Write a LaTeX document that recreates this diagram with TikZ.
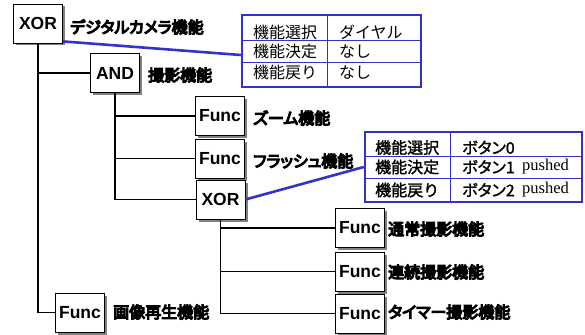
\documentclass[tikz,border=0pt]{standalone}
\usepackage{fontspec}
\setmainfont{Liberation Sans}
\newfontfamily\jp{Noto Sans CJK JP}
\newfontfamily\jpm[FakeBold=1.5]{Noto Sans CJK JP}
\newfontfamily\jpmp[FakeBold=1.5,RawFeature=+palt]{Noto Sans CJK JP}
\newfontfamily\jpb[FakeBold=7,RawFeature=+palt]{Noto Sans CJK JP}
\newfontfamily\ser{Liberation Serif}
\usetikzlibrary{shadows}
\definecolor{tblue}{RGB}{51,51,204}
\begin{document}
\begin{tikzpicture}[x=1pt,y=-1pt,
  box/.style={draw=black, line width=0.8pt, fill=white, minimum width=49pt, minimum height=39pt, inner sep=0pt,
    font=\fontsize{17.5}{17.5}\selectfont\bfseries,
    drop shadow={shadow xshift=2.5pt, shadow yshift=-2.5pt, fill=gray, opacity=1}},
  lab/.style={anchor=west, inner sep=0pt, font=\jpb\fontsize{16}{16}\selectfont},
  tbl/.style={draw=tblue, line width=2.4pt, inner sep=0pt},
  tline/.style={draw=tblue, line width=1pt},
  ttext/.style={anchor=west, inner sep=0pt, font=\jp\fontsize{16}{16}\selectfont},
  ttextb/.style={anchor=west, inner sep=0pt, font=\jpm\fontsize{16}{16}\selectfont},
  ttextp/.style={anchor=west, inner sep=0pt, font=\jpmp\fontsize{16}{16}\selectfont},
  push/.style={anchor=west, inner sep=0pt, font=\ser\fontsize{16.5}{16.5}\selectfont},
  link/.style={draw=tblue, line width=2.6pt},
  conn/.style={draw=black, line width=1.2pt}]
\useasboundingbox (0,0) rectangle (585,334);

% tree nodes
\node[box] (x1) at (38,23.5) {XOR};
\node[lab] (l1) at (70,27) {デジタルカメラ機能};
\node[box] (and) at (115,73) {AND};
\node[lab] (l2) at (148,75) {撮影機能};
\node[box] (f1) at (220,116) {Func};
\node[lab] (l3) at (253,118) {ズーム機能};
\node[box] (f2) at (220,158.5) {Func};
\node[lab] (l4) at (253,161) {フラッシュ機能};
\node[box] (x2) at (220.5,199.5) {XOR};
\node[box] (fa) at (360,228) {Func};
\node[lab] (l5) at (388,229) {通常撮影機能};
\node[box] (fb) at (360,271.5) {Func};
\node[lab] (l6) at (388,272) {連続撮影機能};
\node[box] (fc) at (360,313.5) {Func};
\node[lab] (l7) at (388,312) {タイマー撮影機能};
\node[box] (fd) at (80,312.5) {Func};
\node[lab] (l8) at (113,312) {画像再生機能};

% connectors
\draw[conn] (x1.south) -- (x1.south |- fd.west) -- (fd.west);
\draw[conn] (x1.south |- and.west) -- (and.west);
\draw[conn] (and.south) -- (and.south |- x2.west) -- (x2.west);
\draw[conn] (and.south |- f1.west) -- (f1.west);
\draw[conn] (and.south |- f2.west) -- (f2.west);
\draw[conn] (x2.south) -- (x2.south |- fc.west) -- (fc.west);
\draw[conn] (x2.south |- fa.west) -- (fa.west);
\draw[conn] (x2.south |- fb.west) -- (fb.west);

% table 1
\node[tbl, minimum width=179pt, minimum height=72pt] (t1) at (331.5,51) {};
\draw[tline] (327,15) -- (327,87);
\draw[tline] (242,41) -- (421,41);
\draw[tline] (242,63) -- (421,63);
\node[ttext] (t1a) at (253,32) {機能選択};
\node[ttext] (t1b) at (253,51.5) {機能決定};
\node[ttext] (t1c) at (253,72.5) {機能戻り};
\node[ttext] (t1d) at (339,32) {ダイヤル};
\node[ttext] (t1e) at (339,51.5) {なし};
\node[ttext] (t1f) at (339,72.5) {なし};

% table 2
\node[tbl, minimum width=217pt, minimum height=70pt] (t2) at (473.5,167) {};
\draw[tline] (450,132) -- (450,202);
\draw[tline] (365,156) -- (582,156);
\draw[tline] (365,178) -- (582,178);
\node[ttextb] (t2a) at (375,147.5) {機能選択};
\node[ttextb] (t2b) at (375,167) {機能決定};
\node[ttextb] (t2c) at (375,190) {機能戻り};
\node[ttextp] (t2d) at (462,147.5) {ボタン0};
\node[ttextp] (t2e) at (462,167) {ボタン1};
\node[ttextp] (t2f) at (462,190) {ボタン2};
\node[push] (p1) at (522,167) {pushed};
\node[push] (p2) at (522,190) {pushed};

% blue links
\draw[link] ([yshift=2pt]x1.south east) -- ([yshift=-4pt]t1.west);
\draw[link] (x2.east) -- (t2.west);
\end{tikzpicture}
\end{document}
